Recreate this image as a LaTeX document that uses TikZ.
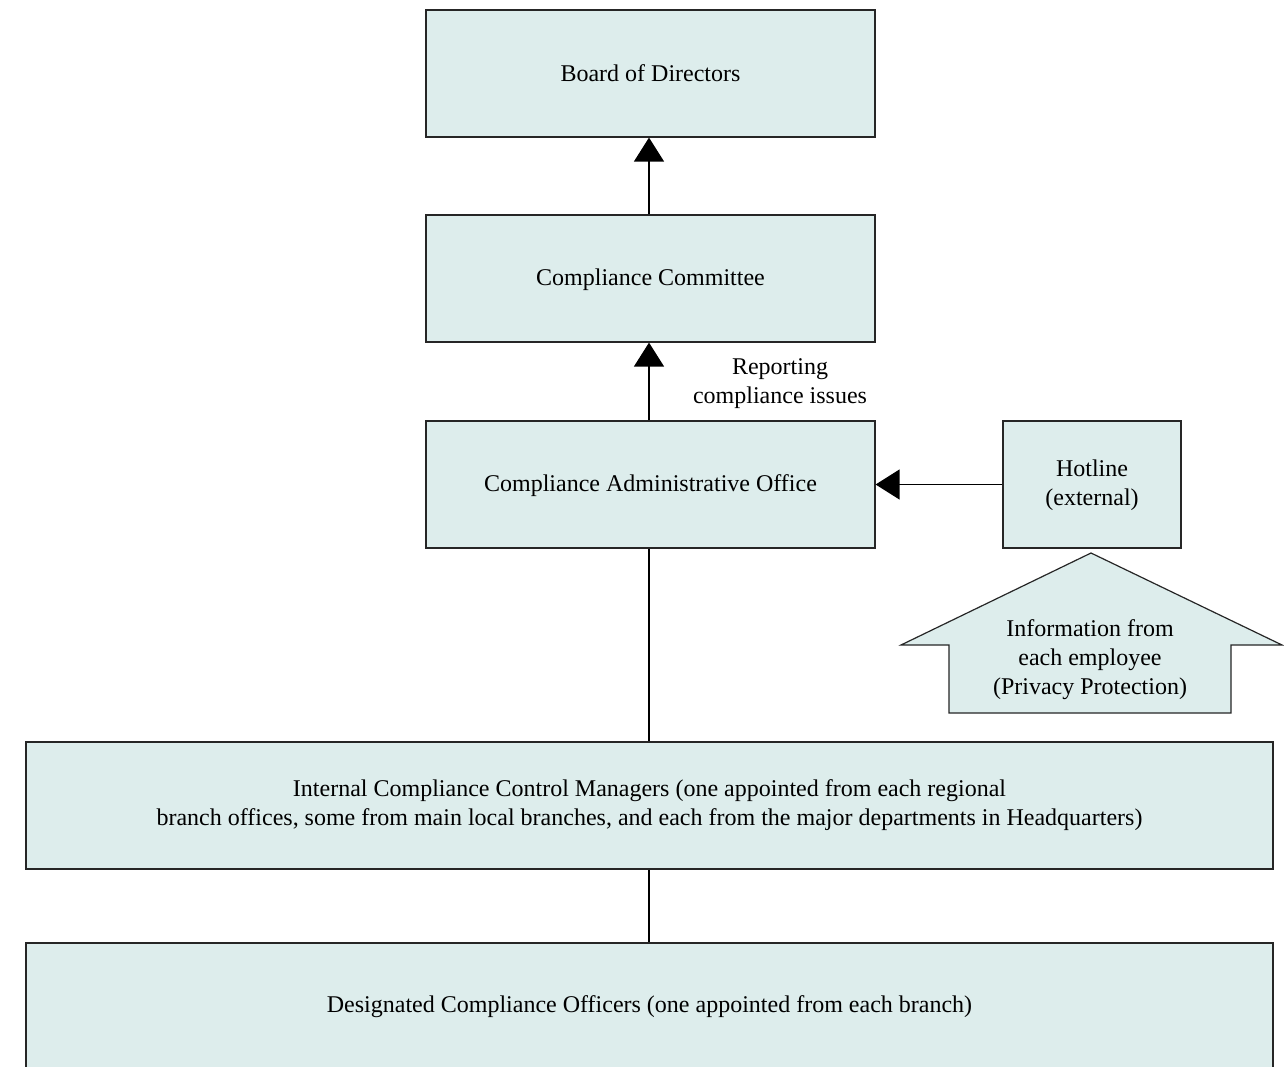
\documentclass[tikz,border=0pt]{standalone}
\usepackage{fontspec}
\setmainfont{Liberation Serif}
\usetikzlibrary{arrows.meta}
\definecolor{boxfill}{RGB}{221,237,236}
\begin{document}
\begin{tikzpicture}[x=1pt,y=-1pt,
  box/.style={draw=black!85, line width=1.2pt, fill=boxfill, inner sep=0pt, align=center,
    font=\fontsize{24}{29}\selectfont},
  conn/.style={line width=1.3pt, black},
  tip/.style={-{Triangle[width=30pt,length=24pt]}},
  lbl/.style={align=center, inner sep=0pt, font=\fontsize{24}{29}\selectfont}]
\useasboundingbox (0,0) rectangle (1284,1067);
\fill[white] (0,0) rectangle (1284,1067);
\node[box, minimum width=449pt, minimum height=127pt] (bod) at (650.5,73.5) {Board of Directors};
\node[box, minimum width=449pt, minimum height=127pt, text depth=3pt] (cc) at (650.5,278.5) {Compliance Committee};
\node[box, minimum width=449pt, minimum height=127pt, text depth=3pt] (cao) at (650.5,484.5) {Compliance Administrative Office};
\node[box, minimum width=178pt, minimum height=127pt, text depth=3pt] (hot) at (1092,484.5) {Hotline\\(external)};
\node[box, minimum width=1247pt, minimum height=127pt] (iccm) at (649.5,805.5) {Internal Compliance Control Managers (one appointed from each regional\\branch offices, some from main local branches, and each from the major departments in Headquarters)};
\node[box, minimum width=1247pt, minimum height=127pt] (dco) at (649.5,1006.5) {Designated Compliance Officers (one appointed from each branch)};
% big arrow
\draw[draw=black!85, line width=1.2pt, fill=boxfill] (1091,553) -- (1282,645) -- (1231,645) -- (1231,713) -- (949,713) -- (949,645) -- (901,645) -- cycle;
\node[lbl] (info) at (1090,660) {Information from\\each employee\\(Privacy Protection)};
\node[lbl] (rep) at (780,384) {Reporting\\compliance issues};
% connectors
\draw[conn, tip] (cc.north -| 649,0) -- (bod.south -| 649,0);
\draw[conn, tip] (cao.north -| 649,0) -- (cc.south -| 649,0);
\draw[conn, tip] (hot.west) -- (cao.east);
\draw[conn] (cao.south -| 649,0) -- (iccm.north -| 649,0);
\draw[conn] (iccm.south -| 649,0) -- (dco.north -| 649,0);
\end{tikzpicture}
\end{document}
